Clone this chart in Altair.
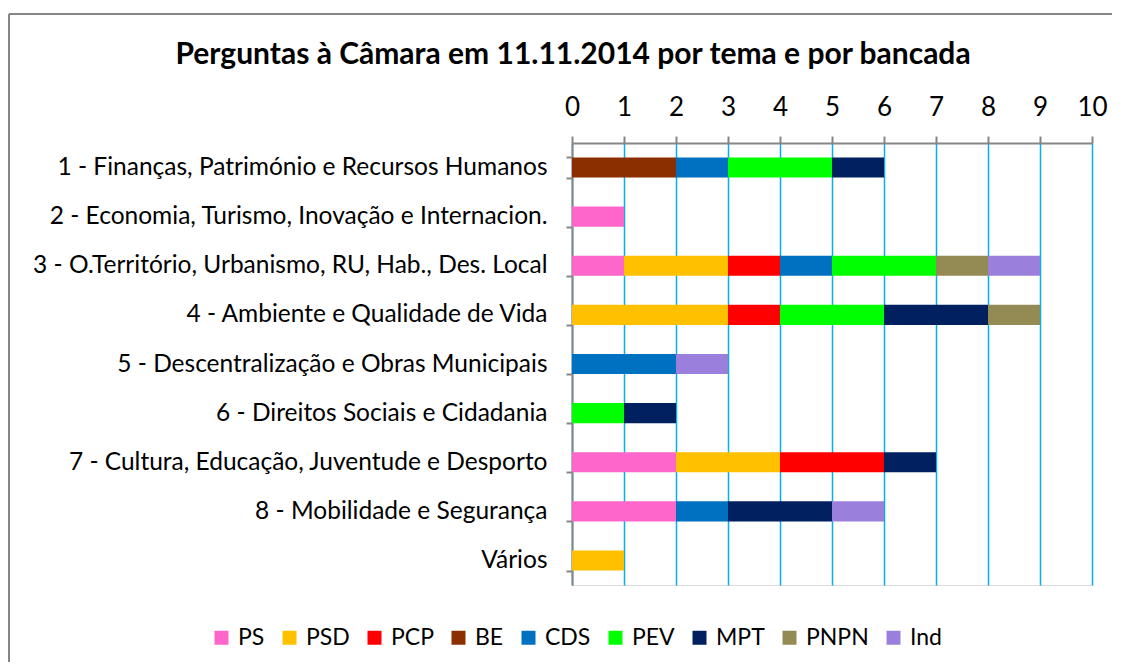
import altair as alt
import pandas as pd

title_text = "Perguntas à Câmara em 11.11.2014 por tema e por bancada"

topics = [
    "1 - Finanças, Património e Recursos Humanos",
    "2 - Economia, Turismo, Inovação e Internacion.",
    "3 - O.Território, Urbanismo, RU, Hab., Des. Local",
    "4 - Ambiente e Qualidade de Vida",
    "5 - Descentralização e Obras Municipais",
    "6 - Direitos Sociais e Cidadania",
    "7 - Cultura, Educação, Juventude e Desporto",
    "8 - Mobilidade e Segurança",
    "Vários",
]

parties = ["PS", "PSD", "PCP", "BE", "CDS", "PEV", "MPT", "PNPN", "Ind"]
colors = ["#FF66CC", "#FFC000", "#FF0000", "#8B2F00", "#0070C0", "#00FF00", "#002060", "#948A54", "#9A80DC"]

PS   = [0, 1, 1, 0, 0, 0, 2, 2, 0]
PSD  = [0, 0, 2, 3, 0, 0, 2, 0, 1]
PCP  = [0, 0, 1, 1, 0, 0, 2, 0, 0]
BE   = [2, 0, 0, 0, 0, 0, 0, 0, 0]
CDS  = [1, 0, 1, 0, 2, 0, 0, 1, 0]
PEV  = [2, 0, 2, 2, 0, 1, 0, 0, 0]
MPT  = [1, 0, 0, 2, 0, 1, 1, 2, 0]
PNPN = [0, 0, 1, 1, 0, 0, 0, 0, 0]
Ind  = [0, 0, 1, 0, 1, 0, 0, 1, 0]

x_ticks = list(range(0, 11))

series = [PS, PSD, PCP, BE, CDS, PEV, MPT, PNPN, Ind]
rows = []
for pi, (p, vals) in enumerate(zip(parties, series)):
    for t, v in zip(topics, vals):
        rows.append({"tema": t, "bancada": p, "n": v, "ord": pi})
df = pd.DataFrame(rows)

FONT = "Lato"
W, H = 520, 442

bars = alt.Chart(df).mark_bar().encode(
    y=alt.Y("tema:N", sort=topics, title=None,
            scale=alt.Scale(paddingInner=0.59, paddingOuter=0.295),
            axis=alt.Axis(tickBand="extent", tickSize=6, tickColor="#868686", tickWidth=2,
                          domainColor="#868686", domainWidth=2, labelPadding=19,
                          labelFontSize=24.5, labelFont=FONT, labelColor="#000000",
                          labelLimit=700)),
    x=alt.X("sum(n):Q", stack="zero", title=None,
            scale=alt.Scale(domain=[0, 10], nice=False),
            axis=alt.Axis(orient="top", values=x_ticks, format="d", tickSize=7,
                          tickColor="#868686", tickWidth=2, domainColor="#868686",
                          domainWidth=2, grid=True, gridColor="#00B0F0", gridWidth=1.5,
                          labelFontSize=26, labelFont=FONT, labelColor="#000000",
                          labelPadding=16, labelFlush=False, labelOverlap=False)),
    color=alt.Color("bancada:N", sort=parties,
                    scale=alt.Scale(domain=parties, range=colors),
                    legend=alt.Legend(title=None, orient="none", direction="horizontal",
                                      columns=9, legendX=-362, legendY=483,
                                      symbolType="square", symbolSize=196,
                                      symbolStrokeWidth=0, labelFontSize=23,
                                      labelFont=FONT, labelColor="#000000",
                                      columnPadding=13, labelOffset=5)),
    order=alt.Order("ord:Q"),
)

one = pd.DataFrame({"k": [0]})

title = alt.Chart(one).mark_text(
    text=title_text, font=FONT, fontSize=30, fontWeight="bold",
    align="center", baseline="middle", color="#000000"
).encode(x=alt.value(1), y=alt.value(-88))

border_top = alt.Chart(one).mark_rule(color="#868686", strokeWidth=2).encode(
    x=alt.value(-563), x2=alt.value(540), y=alt.value(-129))
border_left = alt.Chart(one).mark_rule(color="#868686", strokeWidth=2).encode(
    x=alt.value(-563), y=alt.value(-129), y2=alt.value(519))

chart = alt.layer(border_top, border_left, bars, title).properties(
    width=W, height=H,
    padding={"left": 0, "top": 5, "right": 0, "bottom": 0},
).configure_view(stroke=None).configure(background="#FFFFFF")

chart.save("out.html", embed_options={"renderer": "svg", "actions": False})
